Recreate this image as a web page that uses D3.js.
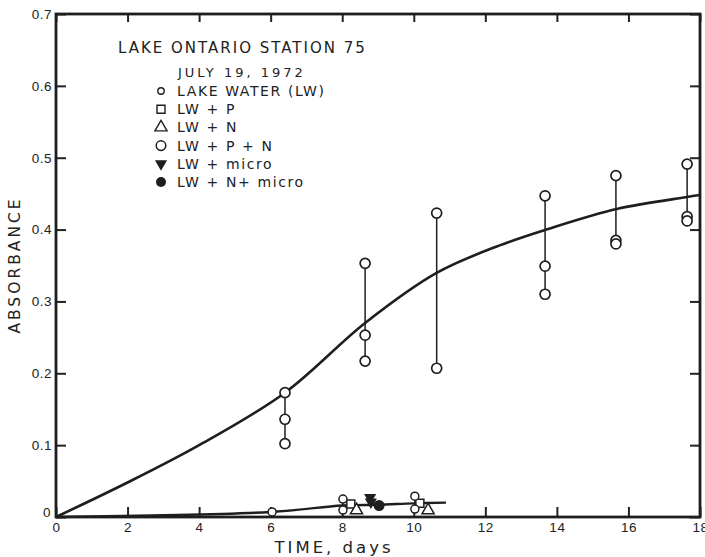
<!DOCTYPE html>
<html>
<head>
<meta charset="UTF-8">
<style>
  body { margin: 0; background: #fff; }
  svg { font-family: "DejaVu Sans", sans-serif; }
  .tick text { font-size: 13.5px; fill: #222; letter-spacing: 0.5px; }
  .tick line { stroke: #222; stroke-width: 2; }
  .lbl { fill: #222; }
</style>
</head>
<body>
<script src="https://cdn.jsdelivr.net/npm/d3@7"></script>
<script>
// smooth curve through the P+N results
var curveDays = [0, 2, 4, 6.4, 8.64, 10.65, 12.4, 13.7, 15.7, 17.6, 18];
var curveVals = [0, 0.048, 0.10, 0.173, 0.27, 0.34, 0.378, 0.40, 0.429, 0.445, 0.448];

// LW+P+N replicates (joined by vertical lines)
var pnDays = [6.4, 8.64, 10.64, 13.67, 15.65, 17.64];
var pnVals = [
  [0.173, 0.136, 0.102],
  [0.353, 0.253, 0.217],
  [0.423, 0.207],
  [0.447, 0.349, 0.31],
  [0.475, 0.385, 0.38],
  [0.491, 0.418, 0.412]
];

// lake water line and points
var lwLineDays = [0, 6, 8, 9, 10, 10.9];
var lwLineVals = [0, 0.007, 0.016, 0.017, 0.019, 0.02];
var lwDays = [6.04, 8.02, 10.03];
var lwVals = [[0.007], [0.025, 0.0097], [0.029, 0.011]];

var pDays = [8.24, 10.17];
var pVals = [0.018, 0.019];
var nDays = [8.4, 10.4];
var nVals = [0.008, 0.008];
var microDays = [8.78, 8.8];
var microVals = [0.027, 0.021];
var nMicroDays = [9.03];
var nMicroVals = [0.016];

var xTicks = [0, 2, 4, 6, 8, 10, 12, 14, 16, 18];
var yTicks = [0, 0.1, 0.2, 0.3, 0.4, 0.5, 0.6, 0.7];

var legendLabels = ['LAKE WATER (LW)', 'LW + P', 'LW + N', 'LW + P + N', 'LW + micro', 'LW + N+ micro'];

var ink = '#1e1e1e';
var svg = d3.select('body').append('svg').attr('width', 705).attr('height', 557);

var x = d3.scaleLinear().domain([0, 18]).range([56, 700]);
var y = d3.scaleLinear().domain([0, 0.7]).range([517, 14]);

// axes
var fmtY = function(d){ return d === 0 ? '0' : d.toFixed(1); };
var gl = svg.append('g').attr('transform', 'translate(56,0)')
  .call(d3.axisLeft(y).tickValues(yTicks).tickSize(-10).tickPadding(4).tickFormat(fmtY));
gl.select('.domain').remove();
gl.selectAll('.tick').filter(function(d){ return d === 0; }).select('text').attr('dy', '-0.05em').attr('x', -5);

var gb = svg.append('g').attr('transform', 'translate(0,517)')
  .call(d3.axisBottom(x).tickValues(xTicks).tickSize(-10).tickPadding(5).tickFormat(d3.format('d')));
gb.select('.domain').remove();

var gt = svg.append('g').attr('transform', 'translate(0,14)')
  .call(d3.axisTop(x).tickValues(xTicks).tickSize(-8).tickFormat(''));
gt.select('.domain').remove();

var gr = svg.append('g').attr('transform', 'translate(700,0)')
  .call(d3.axisLeft(y).tickValues(yTicks).tickSize(10).tickFormat(''));
gr.select('.domain').remove();

svg.append('rect')
  .attr('x', x(0)).attr('y', y(0.7))
  .attr('width', x(18) - x(0)).attr('height', y(0) - y(0.7))
  .attr('fill', 'none').attr('stroke', ink).attr('stroke-width', 2.8);

// axis titles
svg.append('text').attr('class', 'lbl')
  .attr('transform', 'translate(20,265) rotate(-90)')
  .attr('text-anchor', 'middle').style('font-size', '15.5px').style('letter-spacing', '3px')
  .text('ABSORBANCE');
svg.append('text').attr('class', 'lbl')
  .attr('x', 334).attr('y', 553)
  .attr('text-anchor', 'middle').style('font-size', '16.5px').style('letter-spacing', '3px')
  .text('TIME, days');

// main curve
var line = d3.line().curve(d3.curveCatmullRom.alpha(0.5))
  .x(function(d){ return x(d[0]); }).y(function(d){ return y(d[1]); });
svg.append('path')
  .datum(d3.zip(curveDays, curveVals))
  .attr('d', line).attr('fill', 'none').attr('stroke', ink).attr('stroke-width', 2.6);

// lake water line
svg.append('path')
  .datum(d3.zip(lwLineDays, lwLineVals))
  .attr('d', line).attr('fill', 'none').attr('stroke', ink).attr('stroke-width', 2.4);

// vertical range lines
function ranges(days, vals) {
  days.forEach(function(d, i){
    if (vals[i].length < 2) return;
    svg.append('line')
      .attr('x1', x(d)).attr('x2', x(d))
      .attr('y1', y(d3.max(vals[i]))).attr('y2', y(d3.min(vals[i])))
      .attr('stroke', ink).attr('stroke-width', 1.5);
  });
}
ranges(pnDays, pnVals);
ranges(lwDays, lwVals);

function flat(days, vals) {
  var out = [];
  days.forEach(function(d, i){ vals[i].forEach(function(v){ out.push([d, v]); }); });
  return out;
}

// LW+P+N circles
svg.selectAll('.pn').data(flat(pnDays, pnVals)).enter().append('circle')
  .attr('cx', function(d){ return x(d[0]); }).attr('cy', function(d){ return y(d[1]); })
  .attr('r', 5).attr('fill', '#fff').attr('stroke', ink).attr('stroke-width', 1.7);

// bottom markers
var sq = d3.symbol().type(d3.symbolSquare).size(64);
var tri = d3.symbol().type(d3.symbolTriangle).size(64);
svg.selectAll('.p').data(d3.zip(pDays, pVals)).enter().append('path')
  .attr('transform', function(d){ return 'translate(' + x(d[0]) + ',' + y(d[1]) + ')'; })
  .attr('d', sq).attr('fill', '#fff').attr('stroke', ink).attr('stroke-width', 1.5);
svg.selectAll('.n').data(d3.zip(nDays, nVals)).enter().append('path')
  .attr('transform', function(d){ return 'translate(' + x(d[0]) + ',' + (y(d[1]) - 1) + ')'; })
  .attr('d', tri).attr('fill', '#fff').attr('stroke', ink).attr('stroke-width', 1.5);
svg.selectAll('.lw').data(flat(lwDays, lwVals)).enter().append('circle')
  .attr('cx', function(d){ return x(d[0]); }).attr('cy', function(d){ return y(d[1]); })
  .attr('r', 4).attr('fill', '#fff').attr('stroke', ink).attr('stroke-width', 1.5);
svg.selectAll('.mi').data(d3.zip(microDays, microVals)).enter().append('path')
  .attr('transform', function(d){ return 'translate(' + x(d[0]) + ',' + y(d[1]) + ') rotate(180)'; })
  .attr('d', tri).attr('fill', ink);
svg.selectAll('.nm').data(d3.zip(nMicroDays, nMicroVals)).enter().append('circle')
  .attr('cx', function(d){ return x(d[0]); }).attr('cy', function(d){ return y(d[1]); })
  .attr('r', 5.5).attr('fill', ink);

// title and legend
svg.append('text').attr('class', 'lbl').attr('x', 118).attr('y', 53)
  .style('font-size', '15px').style('letter-spacing', '2px').text('LAKE ONTARIO STATION 75');
svg.append('text').attr('class', 'lbl').attr('x', 178).attr('y', 77)
  .style('font-size', '13px').style('letter-spacing', '3px').text('JULY 19, 1972');

var lg = svg.append('g').selectAll('g').data(legendLabels).enter().append('g')
  .attr('transform', function(d, i){ return 'translate(161,' + (91 + i * 18.2) + ')'; });
lg.append('text').attr('class', 'lbl').attr('x', 16).attr('dy', '0.36em')
  .style('font-size', '14px').style('letter-spacing', '1.6px').text(function(d){ return d; });
lg.each(function(d, i){
  var g = d3.select(this);
  if (i === 0) g.append('circle').attr('r', 3.2).attr('fill', '#fff').attr('stroke', ink).attr('stroke-width', 1.4);
  if (i === 1) g.append('path').attr('d', sq).attr('fill', '#fff').attr('stroke', ink).attr('stroke-width', 1.4);
  if (i === 2) g.append('path').attr('d', tri).attr('fill', '#fff').attr('stroke', ink).attr('stroke-width', 1.4);
  if (i === 3) g.append('circle').attr('r', 4.8).attr('fill', '#fff').attr('stroke', ink).attr('stroke-width', 1.5);
  if (i === 4) g.append('path').attr('d', tri).attr('transform', 'rotate(180)').attr('fill', ink);
  if (i === 5) g.append('circle').attr('r', 5).attr('fill', ink);
});
</script>
</body>
</html>
